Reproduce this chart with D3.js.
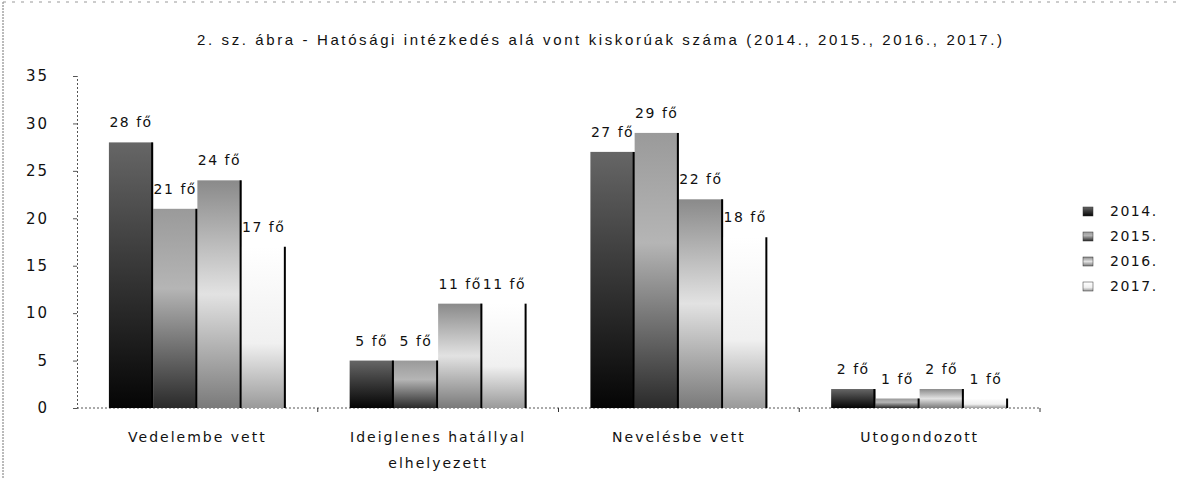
<!DOCTYPE html>
<html>
<head>
<meta charset="utf-8">
<script src="https://cdn.jsdelivr.net/npm/d3@7"></script>
<style>
  body { margin: 0; background: #fff; }
  text { font-family: "DejaVu Sans", sans-serif; fill: #111; }
</style>
</head>
<body>
<div id="chart"></div>
<script>
// chart data
var categories = ["Vedelembe vett", "Ideiglenes hatállyal elhelyezett", "Nevelésbe vett", "Utogondozott"]
var years = ["2014.", "2015.", "2016.", "2017."]
var v2014 = [28, 5, 27, 2]
var v2015 = [21, 5, 29, 1]
var v2016 = [24, 11, 22, 2]
var v2017 = [17, 11, 18, 1]
var yTicks = [0, 5, 10, 15, 20, 25, 30, 35]
var title = "2. sz. ábra - Hatósági intézkedés alá vont kiskorúak száma (2014., 2015., 2016., 2017.)"

var series = [v2014, v2015, v2016, v2017]

var width = 1179,
    height = 478

var svg = d3.select("#chart")
  .append("svg")
    .attr("width", width)
    .attr("height", height)

// gradient fills, roughly like the scanned excel bars
var defs = svg.append("defs")
var gradStops = [
  [[0, "#666666"], [0.45, "#3a3a3a"], [1, "#050505"]],
  [[0, "#9a9a9a"], [0.4, "#b5b5b5"], [1, "#2a2a2a"]],
  [[0, "#8a8a8a"], [0.5, "#e2e2e2"], [1, "#7a7a7a"]],
  [[0, "#ffffff"], [0.6, "#f0f0f0"], [1, "#9a9a9a"]]
]
gradStops.forEach(function(stops, i) {
  var g = defs.append("linearGradient")
    .attr("id", "g" + i)
    .attr("x1", 0).attr("y1", 0).attr("x2", 0).attr("y2", 1)
  stops.forEach(function(s) {
    g.append("stop").attr("offset", s[0]).attr("stop-color", s[1])
  })
})

// outer frame (dotted, as in the scan)
svg.append("line")
  .attr("x1", 3).attr("x2", 3).attr("y1", 2).attr("y2", height)
  .attr("stroke", "#777").attr("stroke-dasharray", "2,1")
svg.append("line")
  .attr("x1", 3).attr("x2", width).attr("y1", 2).attr("y2", 2)
  .attr("stroke", "#999").attr("stroke-dasharray", "3,6")

// title
svg.append("text")
  .attr("x", 197)
  .attr("y", 45)
  .attr("textLength", 805)
  .attr("lengthAdjust", "spacing")
  .style("font-family", "'Liberation Sans Narrow', 'Liberation Sans', sans-serif")
  .style("font-size", "15px")
  .attr("fill", "#000")
  .text(title)

// scales
var x0 = d3.scaleBand()
  .domain(categories)
  .range([77, 1040])
  .paddingInner(0.265)
  .paddingOuter(0.1325)

var x1 = d3.scaleBand()
  .domain(years)
  .range([0, x0.bandwidth()])

var y = d3.scaleLinear()
  .domain([0, 35])
  .range([408, 76])

// y axis
var yAxis = svg.append("g")
  .attr("transform", "translate(77,0)")
  .call(d3.axisLeft(y).tickValues(yTicks).tickSize(4).tickPadding(24))
yAxis.select(".domain").attr("stroke", "#555").attr("stroke-dasharray", "2,2")
yAxis.selectAll(".tick line").attr("stroke", "#555")
yAxis.selectAll("text")
  .style("font-family", "'DejaVu Sans', sans-serif")
  .style("font-size", "15px")
  .style("letter-spacing", "2px")
  .attr("fill", "#000")

// x axis line and category separators
var step = x0.step()
var bounds = d3.range(categories.length + 1).map(function(i) { return 77 + i * step })
svg.append("line")
  .attr("x1", 77).attr("x2", 1040).attr("y1", y(0)).attr("y2", y(0))
  .attr("stroke", "#555").attr("stroke-dasharray", "2,2")
svg.selectAll(".sep")
  .data(bounds.slice(1))
  .enter()
  .append("line")
    .attr("x1", d => d).attr("x2", d => d)
    .attr("y1", y(0)).attr("y2", y(0) + 4)
    .attr("stroke", "#333")

// bars
var groups = svg.selectAll(".grp")
  .data(categories)
  .enter()
  .append("g")
    .attr("transform", d => "translate(" + x0(d) + ",0)")

groups.each(function(cat, ci) {
  var g = d3.select(this)
  var rows = years.map(function(yr, si) { return {year: yr, si: si, value: series[si][ci]} })

  g.selectAll("rect")
    .data(rows)
    .enter()
    .append("rect")
      .attr("x", d => x1(d.year))
      .attr("y", d => y(d.value))
      .attr("width", x1.bandwidth())
      .attr("height", d => y(0) - y(d.value))
      .attr("fill", d => "url(#g" + d.si + ")")

  // dark right edge of each bar
  g.selectAll(".edge")
    .data(rows)
    .enter()
    .append("line")
      .attr("x1", d => x1(d.year) + x1.bandwidth() - 1)
      .attr("x2", d => x1(d.year) + x1.bandwidth() - 1)
      .attr("y1", d => y(d.value))
      .attr("y2", y(0))
      .attr("stroke", "#000")
      .attr("stroke-width", 2)

  g.selectAll(".lbl")
    .data(rows)
    .enter()
    .append("text")
      .attr("x", d => x1(d.year) + x1.bandwidth() / 2)
      .attr("y", d => y(d.value) - 15)
      .attr("text-anchor", "middle")
      .style("font-size", "14px")
      .style("letter-spacing", "1.5px")
      .attr("fill", "#000")
      .text(d => d.value + " fő")
})

// category labels
svg.selectAll(".cat")
  .data(categories)
  .enter()
  .append("text")
    .attr("text-anchor", "middle")
    .attr("transform", d => "translate(" + (x0(d) + x0.bandwidth() / 2) + ",442)")
    .style("font-size", "14px")
    .style("letter-spacing", "2px")
    .attr("fill", "#000")
    .each(function(d) {
      var t = d3.select(this)
      var lines = d === "Ideiglenes hatállyal elhelyezett" ? ["Ideiglenes hatállyal", "elhelyezett"] : [d]
      lines.forEach(function(l, i) {
        t.append("tspan").attr("x", 0).attr("dy", i === 0 ? 0 : 26).text(l)
      })
    })

// legend
var legend = svg.selectAll(".leg")
  .data(years)
  .enter()
  .append("g")
    .attr("transform", (d, i) => "translate(1083," + (207 + i * 25) + ")")
legend.append("rect")
  .attr("width", 10).attr("height", 9)
  .attr("fill", (d, i) => "url(#g" + i + ")")
  .attr("stroke", "#333").attr("stroke-width", 0.5)
legend.append("text")
  .attr("x", 27).attr("y", 9)
  .style("font-size", "14px")
  .style("letter-spacing", "1.5px")
  .attr("fill", "#000")
  .text(d => d)
</script>
</body>
</html>
